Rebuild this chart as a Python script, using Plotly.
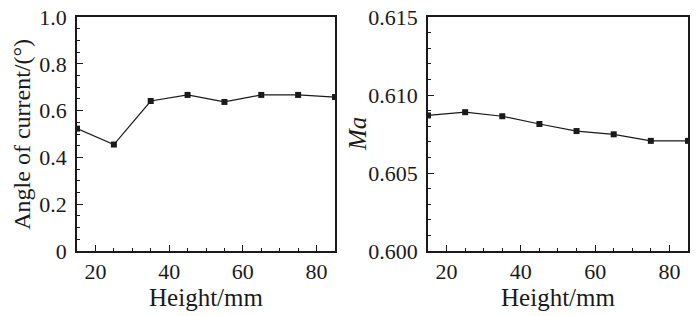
import plotly.graph_objects as go

height_mm = [15, 25, 35, 45, 55, 65, 75, 85]
angle_current = [0.523, 0.455, 0.641, 0.667, 0.637, 0.667, 0.667, 0.658]
mach = [0.60869, 0.60890, 0.60864, 0.60814, 0.60769, 0.60748, 0.60706, 0.60706]

x_ticks = [20, 40, 60, 80]
y1_ticks = [0, 0.2, 0.4, 0.6, 0.8, 1.0]
y1_labels = ["0", "0.2", "0.4", "0.6", "0.8", "1.0"]
y2_ticks = [0.600, 0.605, 0.610, 0.615]
y2_labels = ["0.600", "0.605", "0.610", "0.615"]

FONT = "Liberation Serif"
INK = "#1a1a1a"

fig = go.Figure()
fig.add_trace(go.Scatter(x=height_mm, y=angle_current, mode="lines+markers",
                         line=dict(color=INK, width=1.2),
                         marker=dict(symbol="square", size=6, color=INK),
                         xaxis="x", yaxis="y", showlegend=False))
fig.add_trace(go.Scatter(x=height_mm, y=mach, mode="lines+markers",
                         line=dict(color=INK, width=1.2),
                         marker=dict(symbol="square", size=6, color=INK),
                         xaxis="x2", yaxis="y2", showlegend=False))

common_axis = dict(showline=True, linecolor=INK, linewidth=1.5, mirror=True,
                   showgrid=False, zeroline=False, ticks="inside", ticklen=6,
                   tickwidth=1.3, tickcolor=INK, automargin=False,
                   ticklabeloverflow="allow",
                   tickfont=dict(family=FONT, size=22, color=INK))

xa = dict(common_axis, range=[15, 85], tickvals=x_ticks,
          minor=dict(dtick=5, tick0=0, ticks="inside", ticklen=3, tickcolor=INK, tickwidth=1),
          title=dict(text="Height/mm", font=dict(family=FONT, size=25, color=INK), standoff=0))

ya = dict(common_axis, ticklabelstandoff=4)

fig.update_layout(
    width=700, height=316,
    margin=dict(l=0, r=0, t=0, b=0),
    font=dict(family=FONT),
    paper_bgcolor="white", plot_bgcolor="white",
    xaxis=dict(xa, domain=[0.0986, 0.4671], anchor="y"),
    xaxis2=dict(xa, domain=[0.6, 0.9714], anchor="y2"),
    yaxis=dict(ya, domain=[0.231, 0.9715], anchor="x", range=[0, 1.0],
               tickvals=y1_ticks, ticktext=y1_labels,
               minor=dict(dtick=0.05, tick0=0, ticks="inside", ticklen=3, tickcolor=INK, tickwidth=1)),
    yaxis2=dict(ya, domain=[0.231, 0.9715], anchor="x2", range=[0.600, 0.615],
                tickvals=y2_ticks, ticktext=y2_labels,
                minor=dict(dtick=0.001, tick0=0.6, ticks="inside", ticklen=3, tickcolor=INK, tickwidth=1)),
    annotations=[
        dict(text="Angle of current/(°)", textangle=-90, xref="paper", yref="paper",
             x=0.0205, y=0.60, xanchor="center", yanchor="middle", showarrow=False,
             font=dict(family=FONT, size=24, color=INK)),
        dict(text="<i>Ma</i>", textangle=-90, xref="paper", yref="paper",
             x=0.4986, y=0.601, xanchor="center", yanchor="middle", showarrow=False,
             font=dict(family=FONT, size=25, color=INK)),
    ],
)

fig.write_html("out.html")
